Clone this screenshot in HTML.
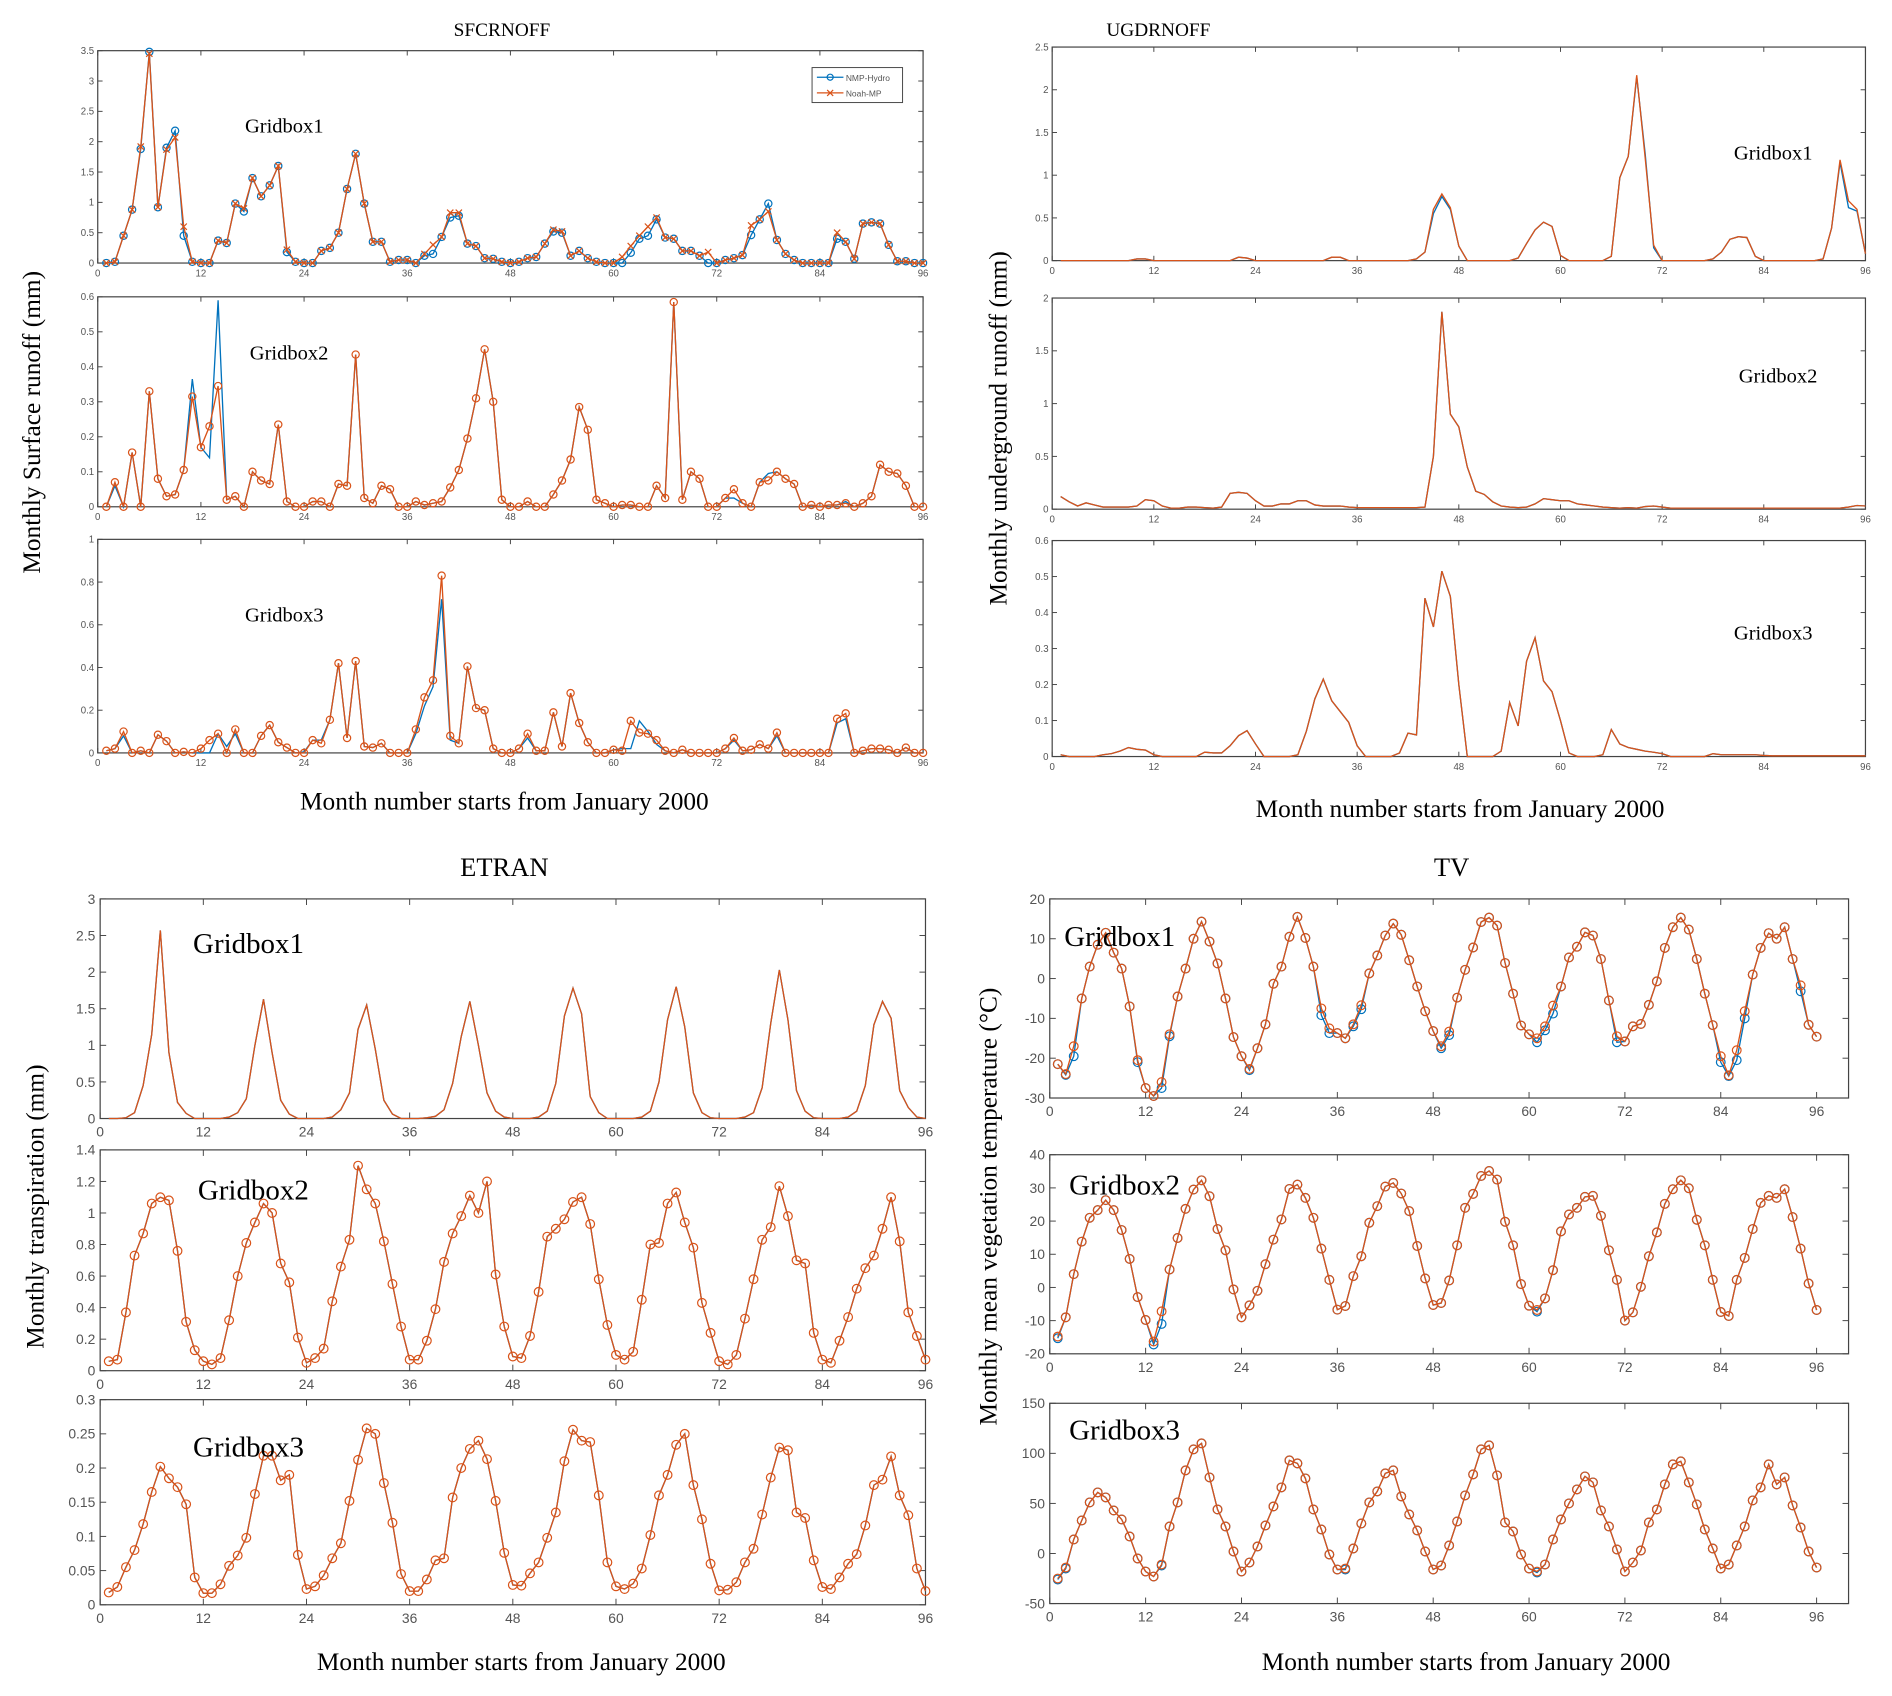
<!DOCTYPE html>
<html><head><meta charset="utf-8"><style>
html,body{margin:0;padding:0;background:#fff;}
svg{display:block;}
text{font-family:"Liberation Serif",serif;}
.tk{font-family:"Liberation Sans",sans-serif;fill:#555;}
</style></head><body>
<svg id="fig" xmlns="http://www.w3.org/2000/svg" width="1892" height="1696" viewBox="0 0 1568 1405.6" preserveAspectRatio="none">
<rect x="0" y="0" width="1568" height="1406" fill="#fff"/>
<text x="416" y="30" font-size="16" text-anchor="middle">SFCRNOFF</text>
<text x="960" y="30" font-size="16" text-anchor="middle">UGDRNOFF</text>
<text x="418" y="726" font-size="22" text-anchor="middle">ETRAN</text>
<text x="1203" y="726" font-size="22" text-anchor="middle">TV</text>
<text x="418" y="671" font-size="21" text-anchor="middle">Month number  starts from January 2000</text>
<text x="1210" y="677" font-size="21" text-anchor="middle">Month number  starts from January 2000</text>
<text x="432" y="1384" font-size="21" text-anchor="middle">Month number  starts from January 2000</text>
<text x="1215" y="1384" font-size="21" text-anchor="middle">Month number  starts from January 2000</text>
<text transform="translate(33,350) rotate(-90)" font-size="21" text-anchor="middle">Monthly  Surface runoff (mm)</text>
<text transform="translate(834,355) rotate(-90)" font-size="21" text-anchor="middle">Monthly  underground runoff (mm)</text>
<text transform="translate(36,1000) rotate(-90)" font-size="21" text-anchor="middle">Monthly  transpiration (mm)</text>
<text transform="translate(826,1000) rotate(-90)" font-size="21" text-anchor="middle">Monthly  mean vegetation temperature (°C)</text>
</svg>
<script>
// ---------- data (months 1..96) ----------
const sfcr1Noah=[0,0.02,0.45,0.88,1.92,3.45,0.92,1.87,2.07,0.6,0.02,0,0,0.37,0.33,0.98,0.9,1.4,1.1,1.28,1.6,0.22,0.02,0,0,0.2,0.25,0.5,1.22,1.8,0.98,0.35,0.35,0.02,0.05,0.05,0,0.15,0.3,0.43,0.83,0.83,0.32,0.28,0.08,0.07,0.02,0,0.02,0.08,0.1,0.32,0.55,0.52,0.12,0.2,0.08,0.02,0,0,0.1,0.28,0.45,0.6,0.75,0.42,0.4,0.2,0.2,0.12,0.18,0,0.05,0.08,0.13,0.62,0.72,0.85,0.38,0.15,0.05,0,0,0,0,0.5,0.35,0.07,0.65,0.67,0.65,0.3,0.03,0.03,0,0];
const sfcr1Hydro=[0,0.02,0.45,0.88,1.88,3.48,0.92,1.9,2.18,0.45,0.02,0,0,0.37,0.33,0.98,0.85,1.4,1.1,1.28,1.6,0.18,0.02,0,0,0.2,0.25,0.5,1.22,1.8,0.98,0.35,0.35,0.02,0.05,0.05,0,0.12,0.15,0.43,0.75,0.78,0.32,0.28,0.08,0.07,0.02,0,0.02,0.08,0.1,0.32,0.52,0.5,0.12,0.2,0.08,0.02,0,0,0,0.17,0.4,0.45,0.72,0.42,0.4,0.2,0.2,0.12,0,0,0.05,0.08,0.13,0.46,0.72,0.98,0.38,0.15,0.05,0,0,0,0,0.4,0.35,0.07,0.65,0.67,0.65,0.3,0.03,0.03,0,0];
const sfcr2Noah=[0,0.07,0,0.155,0,0.33,0.08,0.03,0.035,0.105,0.315,0.17,0.23,0.345,0.02,0.03,0,0.1,0.075,0.065,0.235,0.015,0,0,0.015,0.015,0,0.065,0.06,0.435,0.025,0.01,0.06,0.05,0,0,0.015,0.005,0.01,0.015,0.055,0.105,0.195,0.31,0.45,0.3,0.02,0,0,0.015,0,0,0.035,0.075,0.135,0.285,0.22,0.02,0.01,0,0.005,0.005,0,0,0.06,0.025,0.585,0.02,0.1,0.08,0,0,0.025,0.05,0.01,0,0.07,0.075,0.1,0.08,0.065,0,0.005,0,0.005,0.005,0.01,0,0.01,0.03,0.12,0.1,0.095,0.06,0,0];
const sfcr2Hydro=[0,0.06,0,0.155,0,0.33,0.08,0.03,0.035,0.105,0.365,0.17,0.14,0.59,0.02,0.03,0,0.1,0.075,0.065,0.235,0.015,0,0,0.015,0.015,0,0.065,0.06,0.435,0.025,0.01,0.06,0.05,0,0,0.015,0.005,0.01,0.015,0.055,0.105,0.195,0.31,0.45,0.3,0.02,0,0,0.015,0,0,0.035,0.075,0.135,0.285,0.22,0.02,0.01,0,0.005,0.005,0,0,0.06,0.025,0.585,0.02,0.1,0.08,0,0,0.025,0.025,0.01,0,0.07,0.095,0.1,0.08,0.065,0,0.005,0,0.005,0.005,0.015,0,0.01,0.03,0.12,0.1,0.095,0.06,0,0];
const sfcr3Noah=[0.01,0.02,0.1,0,0.01,0,0.085,0.055,0,0.005,0,0.02,0.06,0.09,0,0.11,0,0,0.08,0.13,0.05,0.025,0,0,0.06,0.045,0.155,0.42,0.07,0.43,0.03,0.025,0.045,0,0,0,0.11,0.26,0.34,0.83,0.08,0.045,0.405,0.21,0.2,0.02,0,0,0.02,0.09,0.01,0.01,0.19,0.03,0.28,0.14,0.05,0,0,0.015,0.01,0.15,0.095,0.09,0.06,0.01,0,0.015,0,0,0,0,0.02,0.07,0.01,0.015,0.04,0.02,0.095,0,0,0,0,0,0,0.16,0.185,0,0.01,0.02,0.02,0.015,0,0.025,0,0];
const sfcr3Hydro=[0.01,0.02,0.08,0,0.01,0,0.085,0.055,0,0.005,0,0,0,0.09,0.03,0.09,0,0,0.08,0.13,0.05,0.025,0,0.005,0.06,0.06,0.155,0.42,0.07,0.43,0.03,0.025,0.045,0,0,0,0.09,0.22,0.31,0.72,0.06,0.045,0.405,0.21,0.2,0.02,0,0,0.02,0.07,0.01,0.01,0.19,0.03,0.28,0.14,0.05,0,0,0.015,0.02,0.02,0.15,0.1,0.04,0.01,0,0.015,0,0,0,0,0.02,0.06,0.01,0.015,0.04,0.02,0.08,0,0,0,0,0,0,0.14,0.16,0,0.01,0.02,0.02,0.015,0,0.025,0,0];
const ugd1Noah=[0,0,0,0,0,0,0,0,0,0.02,0.02,0,0,0,0,0,0,0,0,0,0,0.04,0.03,0,0,0,0,0,0,0,0,0,0.04,0.04,0,0,0,0,0,0,0,0,0.02,0.1,0.6,0.78,0.62,0.17,0,0,0,0,0,0,0.03,0.2,0.36,0.45,0.4,0.06,0,0,0,0,0,0.05,0.97,1.22,2.17,1.2,0.18,0,0,0,0,0,0,0.02,0.1,0.25,0.28,0.27,0.05,0,0,0,0,0,0,0,0.02,0.38,1.18,0.7,0.6,0.08];
const ugd1Hydro=[0,0,0,0,0,0,0,0,0,0.02,0.02,0,0,0,0,0,0,0,0,0,0,0.04,0.03,0,0,0,0,0,0,0,0,0,0.04,0.04,0,0,0,0,0,0,0,0,0.02,0.1,0.55,0.75,0.6,0.17,0,0,0,0,0,0,0.03,0.2,0.36,0.45,0.4,0.06,0,0,0,0,0,0.05,0.97,1.22,2.15,1.25,0.15,0,0,0,0,0,0,0.02,0.1,0.25,0.28,0.27,0.05,0,0,0,0,0,0,0,0.02,0.38,1.15,0.62,0.58,0.08];
const ugd2Noah=[0.12,0.07,0.03,0.06,0.04,0.02,0.02,0.02,0.02,0.03,0.09,0.08,0.03,0.01,0.01,0.02,0.02,0.015,0.01,0.02,0.15,0.16,0.15,0.08,0.03,0.03,0.05,0.05,0.08,0.08,0.04,0.03,0.03,0.03,0.02,0.015,0.015,0.015,0.015,0.015,0.015,0.015,0.015,0.02,0.5,1.87,0.9,0.78,0.4,0.17,0.14,0.07,0.03,0.02,0.015,0.02,0.05,0.1,0.09,0.08,0.08,0.05,0.04,0.03,0.02,0.015,0.01,0.015,0.01,0.025,0.03,0.02,0.01,0.01,0.01,0.01,0.01,0.01,0.01,0.01,0.01,0.01,0.01,0.01,0.01,0.01,0.01,0.01,0.01,0.01,0.01,0.01,0.01,0.02,0.035,0.03];
const ugd2Hydro=ugd2Noah;
const ugd3Noah=[0.005,0,0,0,0,0.005,0.008,0.015,0.025,0.02,0.018,0.005,0,0,0,0,0,0.012,0.01,0.01,0.03,0.058,0.072,0.035,0,0,0,0,0.005,0.07,0.16,0.215,0.155,0.125,0.095,0.03,0,0,0,0,0.01,0.065,0.06,0.44,0.36,0.515,0.445,0.2,0,0,0,0,0.015,0.15,0.085,0.265,0.33,0.21,0.18,0.1,0.01,0,0,0,0.005,0.075,0.035,0.025,0.02,0.015,0.012,0.008,0,0,0,0,0,0.008,0.005,0.005,0.005,0.005,0.005,0.003,0.002,0.002,0.002,0.002,0.002,0.002,0.002,0.002,0.002,0.002,0.002,0.002];
const ugd3Hydro=ugd3Noah;
const etran1Noah=[0,0,0.01,0.08,0.45,1.15,2.57,0.9,0.22,0.07,0,0,0,0,0.02,0.08,0.27,1.0,1.63,0.9,0.25,0.06,0,0,0,0,0.02,0.12,0.35,1.22,1.55,0.95,0.25,0.06,0,0,0,0.01,0.03,0.12,0.48,1.12,1.6,1.0,0.35,0.1,0.02,0,0,0,0.02,0.1,0.48,1.4,1.78,1.43,0.3,0.08,0,0,0,0,0.02,0.1,0.5,1.35,1.8,1.25,0.35,0.08,0.01,0,0,0,0.02,0.08,0.42,1.3,2.03,1.35,0.38,0.1,0.01,0,0,0,0.02,0.1,0.45,1.28,1.6,1.37,0.38,0.15,0.02,0];
const etran1Hydro=etran1Noah;
const etran2Noah=[0.06,0.07,0.37,0.73,0.87,1.06,1.1,1.08,0.76,0.31,0.13,0.06,0.04,0.08,0.32,0.6,0.81,0.94,1.06,1.0,0.68,0.56,0.21,0.05,0.08,0.14,0.44,0.66,0.83,1.3,1.15,1.06,0.82,0.55,0.28,0.07,0.07,0.19,0.39,0.69,0.87,0.98,1.11,1.0,1.2,0.61,0.28,0.09,0.08,0.22,0.5,0.85,0.9,0.96,1.07,1.1,0.93,0.58,0.29,0.1,0.07,0.12,0.45,0.8,0.81,1.06,1.13,0.94,0.78,0.43,0.24,0.06,0.04,0.1,0.33,0.58,0.83,0.91,1.17,0.98,0.7,0.68,0.24,0.07,0.05,0.19,0.34,0.52,0.65,0.73,0.9,1.1,0.82,0.37,0.22,0.07];
const etran2Hydro=etran2Noah;
const etran3Noah=[0.018,0.026,0.055,0.08,0.118,0.165,0.202,0.185,0.172,0.147,0.04,0.017,0.017,0.03,0.057,0.072,0.098,0.162,0.218,0.218,0.182,0.19,0.073,0.023,0.027,0.043,0.068,0.09,0.152,0.212,0.258,0.25,0.178,0.12,0.045,0.02,0.02,0.037,0.065,0.068,0.157,0.2,0.228,0.24,0.213,0.152,0.076,0.029,0.028,0.046,0.062,0.098,0.135,0.21,0.256,0.24,0.238,0.16,0.062,0.027,0.023,0.031,0.053,0.102,0.16,0.19,0.234,0.25,0.175,0.125,0.06,0.021,0.022,0.033,0.062,0.082,0.132,0.186,0.23,0.226,0.135,0.127,0.065,0.026,0.023,0.04,0.06,0.074,0.116,0.175,0.183,0.217,0.16,0.131,0.053,0.02];
const etran3Hydro=etran3Noah;
const tv1Noah=[-21.5,-24,-17,-5,3,8.5,11.5,6.5,2.5,-7,-20.5,-27.5,-29.5,-26,-14,-4.5,2.5,10,14.3,9.3,3.8,-5,-14.7,-19.5,-22.7,-17.5,-11.5,-1.3,3,10.5,15.5,10.2,3,-7.5,-12.5,-13.7,-15,-11.5,-6.7,1.3,5.8,10.8,13.8,11,4.6,-2,-8.2,-13.2,-17,-13.3,-4.8,2.2,7.8,14.2,15.3,13.3,3.9,-3.8,-11.8,-14,-15,-12,-6.8,-2,5.3,8,11.6,10.8,4.9,-5.5,-14.5,-15.8,-12,-11.4,-6.6,-0.7,7.7,12.9,15.3,12.3,4.9,-3.8,-11.7,-19.5,-24.3,-18,-8.2,1,7.7,11.4,10,12.9,4.9,-1.7,-11.6,-14.6];
const tv1Hydro=[-21.5,-24.2,-19.5,-5,3,8.5,11.5,6.5,2.5,-7,-21,-27.5,-29.5,-27.5,-14.5,-4.5,2.5,10,14.3,9.3,3.8,-5,-14.7,-19.5,-23,-17.5,-11.5,-1.3,3,10.5,15.5,10.2,3,-9.2,-13.7,-13.7,-15,-12,-7.7,1.3,5.8,10.8,13.8,11,4.6,-2,-8.2,-13.2,-17.5,-14.2,-4.8,2.2,7.8,14.2,15.3,13.3,3.9,-3.8,-11.8,-14,-16,-13,-8.8,-2,5.3,8,11.6,10.8,4.9,-5.5,-16,-15.8,-12,-11.4,-6.6,-0.7,7.7,12.9,15.3,12.3,4.9,-3.8,-11.7,-21,-24.5,-20.5,-10,1,7.7,11.4,10,12.9,4.9,-3.2,-11.6,-14.6];
const tv2Noah=[-14.8,-9,4,13.8,21,23.3,26.3,23.3,17.3,8.6,-2.9,-9.8,-16.3,-7.2,5.4,14.9,23.7,29.5,32.3,27.5,17.6,11.2,-0.6,-9,-5.4,-1,7,14.4,20.5,29.7,31,27,21,11.7,2.3,-6.7,-5.6,3.4,9.4,19.5,24.5,30.4,31.5,28.3,23,12.5,2.7,-5.3,-4.7,2.1,12.7,24,28.2,33.6,35.1,32.5,19.8,12.7,1,-5.5,-6.8,-3.3,5.2,16.9,22,24,27.3,27.6,21.6,11.2,2.3,-10,-7.5,0.2,9.4,16.6,25.2,29.6,32.3,29.9,20.4,12.7,2.3,-7.4,-8.6,2.3,8.9,17.6,25.5,27.6,27,29.6,21.2,11.7,1.2,-6.8];
const tv2Hydro=[-15.3,-9,4,13.8,21,23.3,26.3,23.3,17.3,8.6,-2.9,-9.8,-17.2,-11,5.4,14.9,23.7,29.5,32.3,27.5,17.6,11.2,-0.6,-9,-5.4,-1,7,14.4,20.5,29.7,31,27,21,11.7,2.3,-6.7,-5.6,3.4,9.4,19.5,24.5,30.4,31.5,28.3,23,12.5,2.7,-5.3,-4.7,2.1,12.7,24,28.2,33.6,35.1,32.5,19.8,12.7,1,-5.5,-7.3,-3.3,5.2,16.9,22,24,27.3,27.6,21.6,11.2,2.3,-10,-7.5,0.2,9.4,16.6,25.2,29.6,32.3,29.9,20.4,12.7,2.3,-7.4,-8.6,2.3,8.9,17.6,25.5,27.6,27,29.6,21.2,11.7,1.2,-6.8];
const tv3Noah=[-25,-14,14,33,51,61,56,43,34,17,-5,-18,-23,-11,27,51,83,104,110,76,44,27,2,-18,-9,7,28,47,66,93,90,75,44,24,-1,-16,-15,5,30,51,62,80,83,57,39,23,2,-16,-12,8,32,58,79,104,108,78,31,22,-1,-15,-18,-11,14,34,50,64,77,71,43,27,4,-18,-9,3,31,44,69,89,92,71,49,24,5,-15,-11,8,27,53,66,89,69,76,48,26,2,-14];
const tv3Hydro=[-26,-15,14,33,51,61,56,43,34,17,-5,-18,-23,-12,27,51,83,104,110,76,44,27,2,-18,-9,7,28,47,66,93,90,75,44,24,-1,-16,-16,5,30,51,62,80,83,57,39,23,2,-16,-12,8,32,58,79,104,108,78,31,22,-1,-15,-19,-11,14,34,50,64,77,71,43,27,4,-18,-9,3,31,44,69,89,92,71,49,24,5,-15,-11,8,27,53,66,89,69,76,48,26,2,-14];
// tick labels
const xTickLabels=["0","12","24","36","48","60","72","84","96"];
const ticksSfcr1=["0","0.5","1","1.5","2","2.5","3","3.5"];
const ticksSfcr2=["0","0.1","0.2","0.3","0.4","0.5","0.6"];
const ticksSfcr3=["0","0.2","0.4","0.6","0.8","1"];
const ticksUgd1=["0","0.5","1","1.5","2","2.5"];
const ticksUgd2=["0","0.5","1","1.5","2"];
const ticksUgd3=["0","0.1","0.2","0.3","0.4","0.5","0.6"];
const ticksEtran1=["0","0.5","1","1.5","2","2.5","3"];
const ticksEtran2=["0","0.2","0.4","0.6","0.8","1","1.2","1.4"];
const ticksEtran3=["0","0.05","0.1","0.15","0.2","0.25","0.3"];
const ticksTv1=["-30","-20","-10","0","10","20"];
const ticksTv2=["-20","-10","0","10","20","30","40"];
const ticksTv3=["-50","0","50","100","150"];

const BLUE="#0072BD", ORANGE="#D95319";
const NS="http://www.w3.org/2000/svg";
const svg=document.getElementById('fig');
function mk(tag,attrs,parent){const e=document.createElementNS(NS,tag);for(const k in attrs)e.setAttribute(k,attrs[k]);(parent||svg).appendChild(e);return e;}

function panel(o){
  const g=mk('g',{});
  
  
  const ymin=parseFloat(o.yt[0]), ymax=parseFloat(o.yt[o.yt.length-1]);
  const sx=v=>o.x0+(v/o.xmax)*(o.x1-o.x0);
  const sy=v=>o.y1-(v-ymin)/(ymax-ymin)*(o.y1-o.y0);
  const big=o.big;
  const fs=big?11.5:8, tl=big?5:4;
  const frame=mk('rect',{x:o.x0,y:o.y0,width:o.x1-o.x0,height:o.y1-o.y0,fill:'none',stroke:'#444','stroke-width':1},g);
  
  
  xTickLabels.forEach(l=>{
    const x=sx(parseFloat(l));
    mk('line',{x1:x,x2:x,y1:o.y1,y2:o.y1-tl,stroke:'#444','stroke-width':0.8},g);
    mk('line',{x1:x,x2:x,y1:o.y0,y2:o.y0+tl,stroke:'#444','stroke-width':0.8},g);
    const t=mk('text',{x:x,y:o.y1+(big?15:11),'font-size':fs,'text-anchor':'middle',class:'tk'},g);
    t.textContent=l;
    
    
  });
  o.yt.forEach(l=>{
    const y=sy(parseFloat(l));
    mk('line',{x1:o.x0,x2:o.x0+tl,y1:y,y2:y,stroke:'#444','stroke-width':0.8},g);
    mk('line',{x1:o.x1,x2:o.x1-tl,y1:y,y2:y,stroke:'#444','stroke-width':0.8},g);
    const t=mk('text',{x:o.x0-(big?4:3),y:y+fs*0.35,'font-size':fs,'text-anchor':'end',class:'tk'},g);
    t.textContent=l;
    
    
  });
  const series=[[o.hydro,BLUE,o.hm,'nmp-hydro-line'],[o.noah,ORANGE,o.nm,'noah-mp-line']];
  series.forEach(([arr,col,m,nm])=>{
    const pts=arr.map((v,i)=>sx(i+1).toFixed(2)+','+sy(v).toFixed(2)).join(' ');
    const pl=mk('polyline',{points:pts,fill:'none',stroke:col,'stroke-width':1.1},g);
    
    
    if(m==='o'){arr.forEach((v,i)=>{const c=mk('circle',{cx:sx(i+1),cy:sy(v),r:big?3.6:3,fill:'none',stroke:col,'stroke-width':1},g);
      
      });}
    if(m==='x'){arr.forEach((v,i)=>{const x=sx(i+1),y=sy(v),d=2.6;
      const p=mk('path',{d:`M${x-d},${y-d}L${x+d},${y+d}M${x-d},${y+d}L${x+d},${y-d}`,stroke:col,'stroke-width':1,fill:'none'},g);
      
      });}
  });
  const lab=mk('text',{x:o.lx,y:o.ly,'font-size':big?24:17},g);
  lab.textContent=o.label;
  
  
}

const L1={x0:81,x1:765}, R1={x0:872,x1:1546}, L2={x0:83,x1:767}, R2={x0:870,x1:1532};
panel({name:'sfcrnoff-gridbox1-panel',...L1,xmax:96,y0:42,y1:218,yt:ticksSfcr1,noah:sfcr1Noah,hydro:sfcr1Hydro,hm:'o',nm:'x',label:'Gridbox1',lx:203,ly:110});
panel({name:'sfcrnoff-gridbox2-panel',...L1,xmax:96,y0:246,y1:420,yt:ticksSfcr2,noah:sfcr2Noah,hydro:sfcr2Hydro,hm:'',nm:'o',label:'Gridbox2',lx:207,ly:298});
panel({name:'sfcrnoff-gridbox3-panel',...L1,xmax:96,y0:447,y1:624,yt:ticksSfcr3,noah:sfcr3Noah,hydro:sfcr3Hydro,hm:'',nm:'o',label:'Gridbox3',lx:203,ly:515});
panel({name:'ugdrnoff-gridbox1-panel',...R1,xmax:96,y0:39,y1:216,yt:ticksUgd1,noah:ugd1Noah,hydro:ugd1Hydro,hm:'',nm:'',label:'Gridbox1',lx:1437,ly:132});
panel({name:'ugdrnoff-gridbox2-panel',...R1,xmax:96,y0:247,y1:422,yt:ticksUgd2,noah:ugd2Noah,hydro:ugd2Hydro,hm:'',nm:'',label:'Gridbox2',lx:1441,ly:317});
panel({name:'ugdrnoff-gridbox3-panel',...R1,xmax:96,y0:448,y1:627,yt:ticksUgd3,noah:ugd3Noah,hydro:ugd3Hydro,hm:'',nm:'',label:'Gridbox3',lx:1437,ly:530});
panel({name:'etran-gridbox1-panel',...L2,xmax:96,y0:745,y1:927,yt:ticksEtran1,noah:etran1Noah,hydro:etran1Hydro,hm:'',nm:'',label:'Gridbox1',lx:160,ly:790,big:1});
panel({name:'etran-gridbox2-panel',...L2,xmax:96,y0:953,y1:1136,yt:ticksEtran2,noah:etran2Noah,hydro:etran2Hydro,hm:'',nm:'o',label:'Gridbox2',lx:164,ly:994,big:1});
panel({name:'etran-gridbox3-panel',...L2,xmax:96,y0:1160,y1:1330,yt:ticksEtran3,noah:etran3Noah,hydro:etran3Hydro,hm:'',nm:'o',label:'Gridbox3',lx:160,ly:1207,big:1});
panel({name:'tv-gridbox1-panel',...R2,xmax:100,y0:745,y1:910,yt:ticksTv1,noah:tv1Noah,hydro:tv1Hydro,hm:'o',nm:'o',label:'Gridbox1',lx:882,ly:784,big:1});
panel({name:'tv-gridbox2-panel',...R2,xmax:100,y0:957,y1:1122,yt:ticksTv2,noah:tv2Noah,hydro:tv2Hydro,hm:'o',nm:'o',label:'Gridbox2',lx:886,ly:990,big:1});
panel({name:'tv-gridbox3-panel',...R2,xmax:100,y0:1163,y1:1329,yt:ticksTv3,noah:tv3Noah,hydro:tv3Hydro,hm:'o',nm:'o',label:'Gridbox3',lx:886,ly:1193,big:1});

// legend
const lg=mk('g',{});


mk('rect',{x:673,y:56,width:75,height:29,fill:'#fff',stroke:'#444','stroke-width':0.8},lg);
mk('line',{x1:677,x2:699,y1:64,y2:64,stroke:BLUE,'stroke-width':1},lg);
mk('circle',{cx:688,cy:64,r:2.5,fill:'none',stroke:BLUE},lg);
mk('line',{x1:677,x2:699,y1:77,y2:77,stroke:ORANGE,'stroke-width':1},lg);
mk('path',{d:'M685.5,74.5L690.5,79.5M685.5,79.5L690.5,74.5',stroke:ORANGE,fill:'none'},lg);
const t1=mk('text',{x:701,y:67,'font-size':7,class:'tk'},lg);t1.textContent='NMP-Hydro';


const t2=mk('text',{x:701,y:80,'font-size':7,class:'tk'},lg);t2.textContent='Noah-MP';


</script>
</body></html>
